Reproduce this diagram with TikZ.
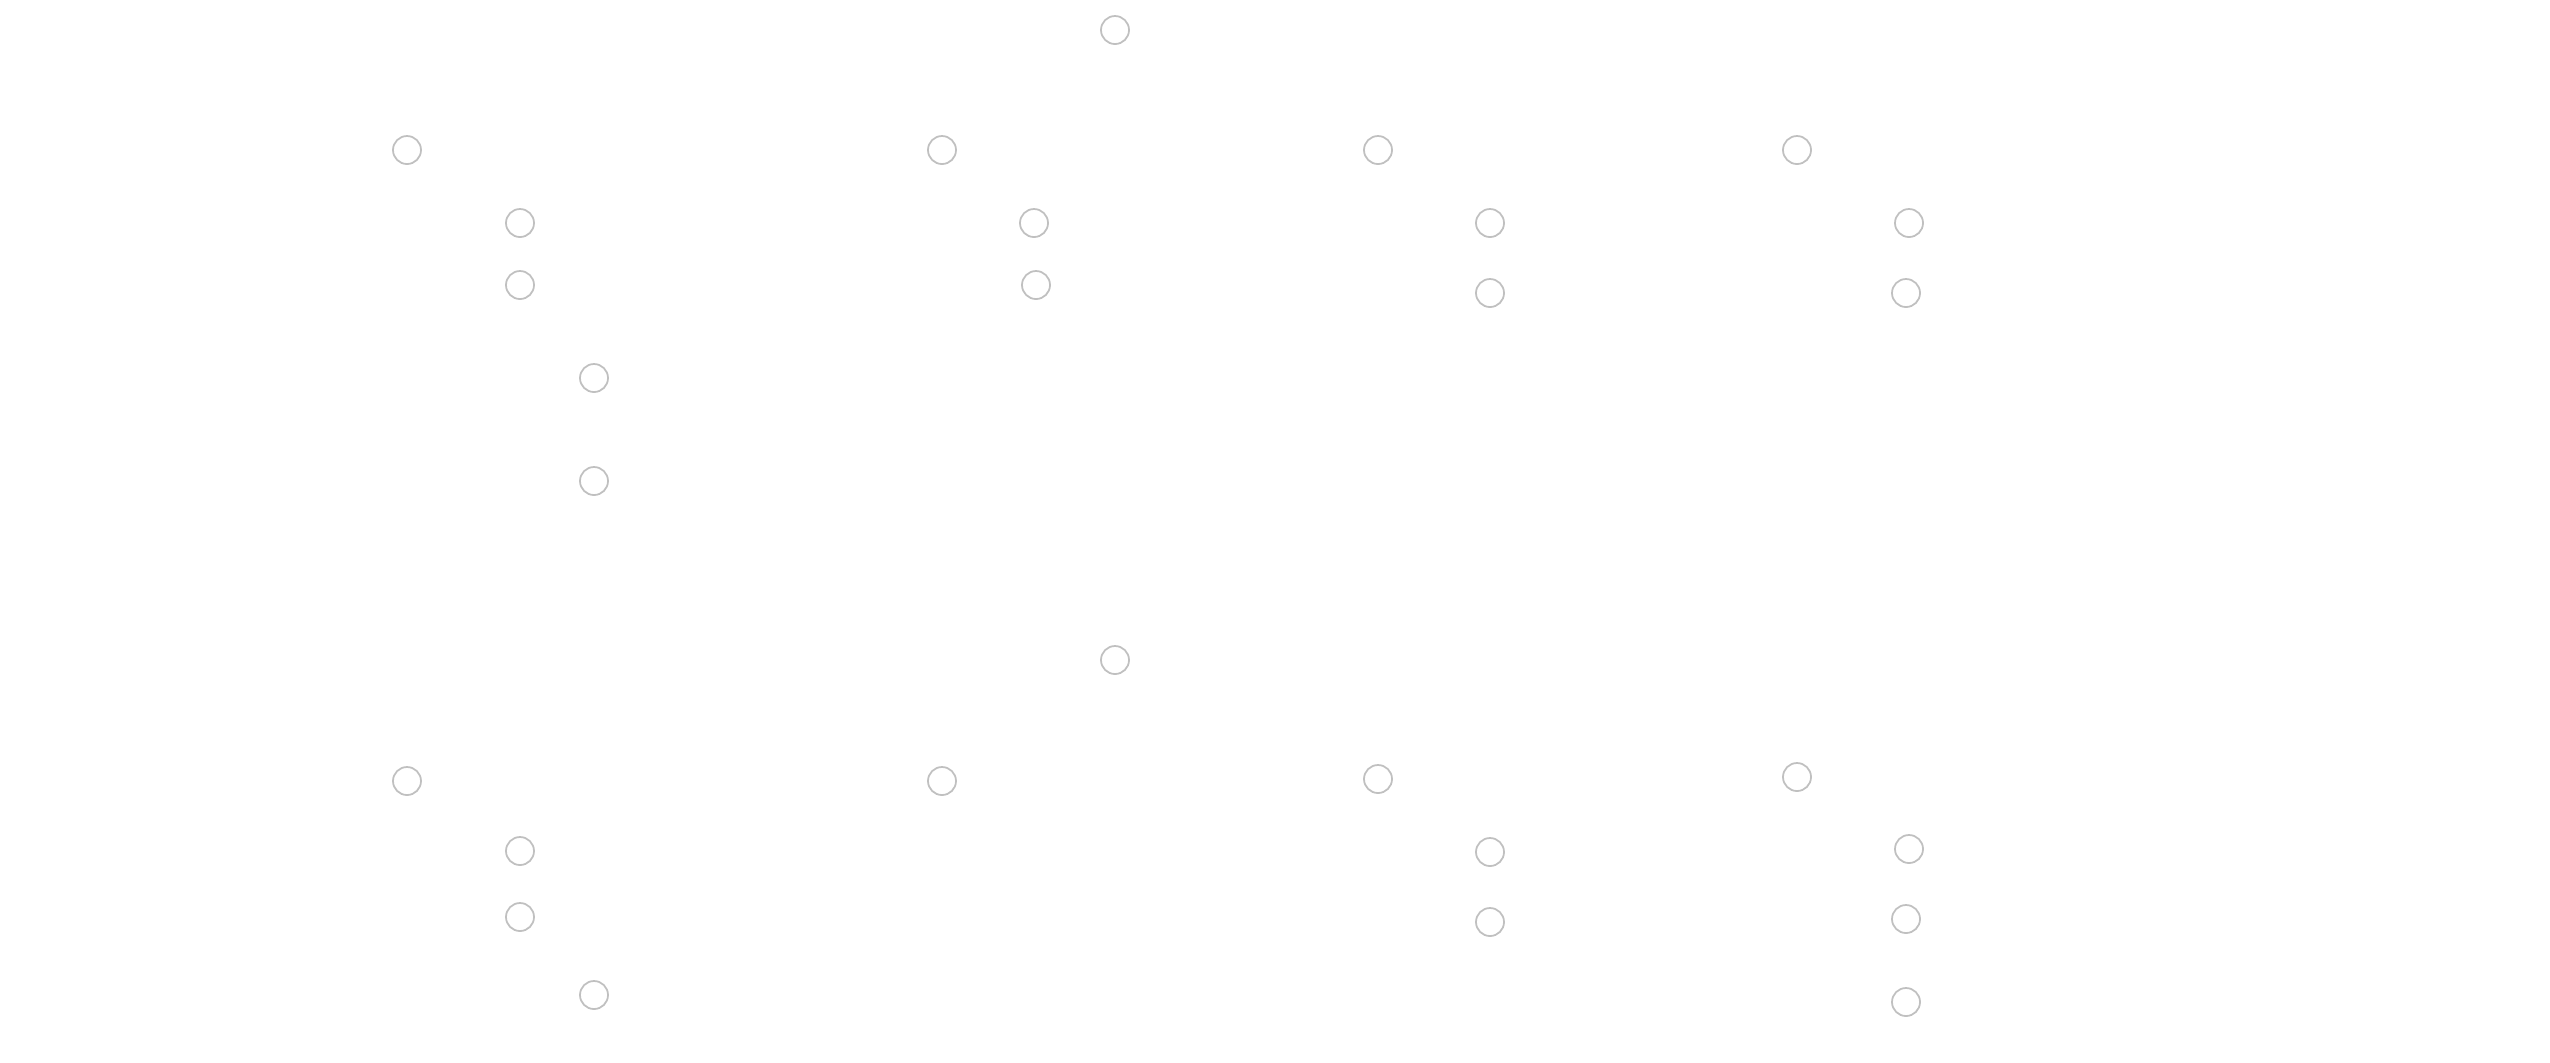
\documentclass[tikz,border=0pt]{standalone}
\usepackage{xcolor}
\usepackage{tikz}
\usetikzlibrary{positioning}

\definecolor{ringgray}{RGB}{192,192,192}

\begin{document}
\begin{tikzpicture}[
  x=0.01cm, y=-0.01cm,
  ring/.style={draw=ringgray, circle, line width=0.5pt, minimum size=0.28cm, inner sep=0pt}
]

  \useasboundingbox (0,0) rectangle (2550,1062);

  % Upper group
  \node[ring] (topa) at (1115,30) {};
  \node[ring] (topb1) at (407,150) {};
  \node[ring] (topc1) at (942,150) {};
  \node[ring] (topd1) at (1378,150) {};
  \node[ring] (tope1) at (1797,150) {};
  \node[ring] (topb2) at (520,223) {};
  \node[ring] (topc2) at (1034,223) {};
  \node[ring] (topd2) at (1490,223) {};
  \node[ring] (tope2) at (1909,223) {};
  \node[ring] (topb3) at (520,285) {};
  \node[ring] (topc3) at (1036,285) {};
  \node[ring] (topd3) at (1490,293) {};
  \node[ring] (tope3) at (1906,293) {};
  \node[ring] (topb4) at (594,378) {};
  \node[ring] (topb5) at (594,481) {};

  % Lower group
  \node[ring] (bota) at (1115,660) {};
  \node[ring] (botb1) at (407,781) {};
  \node[ring] (botc1) at (942,781) {};
  \node[ring] (botd1) at (1378,779) {};
  \node[ring] (bote1) at (1797,777) {};
  \node[ring] (botb2) at (520,851) {};
  \node[ring] (botd2) at (1490,852) {};
  \node[ring] (bote2) at (1909,849) {};
  \node[ring] (botb3) at (520,917) {};
  \node[ring] (botd3) at (1490,922) {};
  \node[ring] (bote3) at (1906,919) {};
  \node[ring] (botb4) at (594,995) {};
  \node[ring] (bote4) at (1906,1002) {};

\end{tikzpicture}
\end{document}
